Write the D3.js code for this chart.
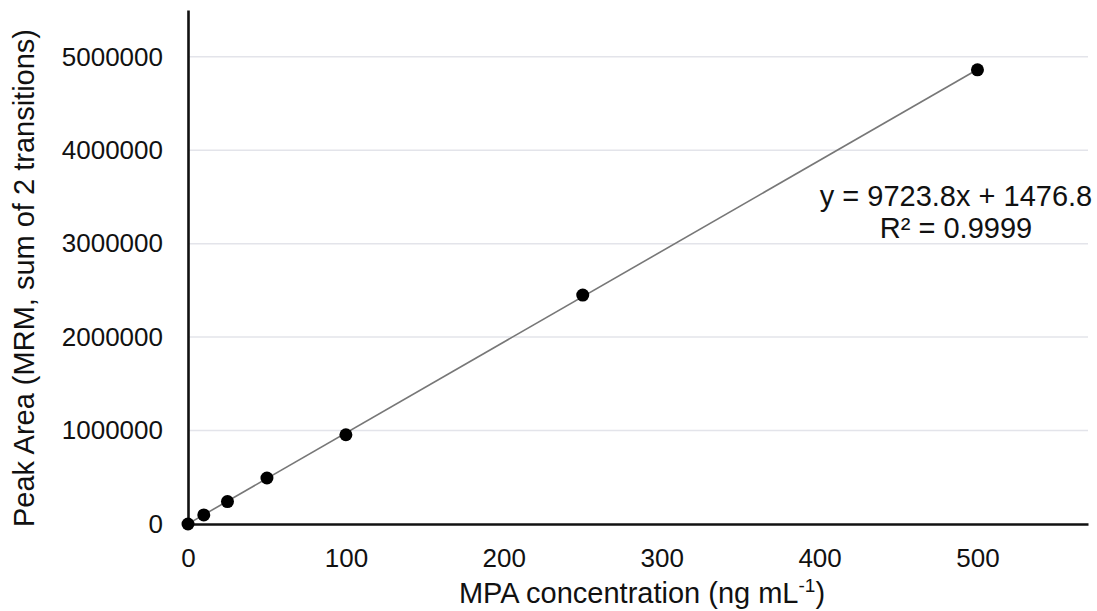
<!DOCTYPE html>
<html>
<head>
<meta charset="utf-8">
<script src="https://cdn.jsdelivr.net/npm/d3@7"></script>
<style>
  body { margin: 0; background: #fff; }
  text { font-family: "Liberation Sans", Arial, sans-serif; fill: #111; }
</style>
</head>
<body>
<div id="vis"></div>
<script>
'use strict';

// Calibration standards (ng/mL) and summed MRM peak areas
const concentrations = [0, 10, 25, 50, 100, 250, 500];
const peakAreas = [0, 97000, 240000, 492000, 955000, 2450000, 4860000];

const xTicks = [0, 100, 200, 300, 400, 500];
const yTicks = [0, 1000000, 2000000, 3000000, 4000000, 5000000];

const slope = 9723.8;
const intercept = 1476.8;
const equationLines = ["y = 9723.8x + 1476.8", "R² = 0.9999"];

const constraints = {
    margin: {left: 188, right: 9, top: 10, bottom: 87},
    width: 1097,
    height: 611
};
const innerW = constraints.width - constraints.margin.left - constraints.margin.right;
const innerH = constraints.height - constraints.margin.top - constraints.margin.bottom;

const svg = d3.select("#vis").append("svg")
    .attr("width", constraints.width)
    .attr("height", constraints.height);

const g = svg.append("g")
    .attr("transform", "translate(" + constraints.margin.left + "," + constraints.margin.top + ")");

const x = d3.scaleLinear().domain([0, 570]).range([0, innerW]);
const y = d3.scaleLinear().domain([0, 5500000]).range([innerH, 0]);

// Gridlines
g.append("g")
    .selectAll("line")
    .data(yTicks.slice(1))
    .enter()
    .append("line")
        .attr("x1", 0)
        .attr("x2", innerW)
        .attr("y1", (d) => y(d))
        .attr("y2", (d) => y(d))
        .attr("stroke", "#e3e4ea")
        .attr("stroke-width", 1.5);

// Axes
const xAxis = g.append("g")
    .attr("transform", "translate(0," + innerH + ")")
    .call(d3.axisBottom(x).tickValues(xTicks).tickSize(0).tickPadding(25));
const yAxis = g.append("g")
    .call(d3.axisLeft(y).tickValues(yTicks).tickSize(0).tickPadding(25).tickFormat(d3.format("d")));

[xAxis, yAxis].forEach((a) => {
    a.select(".domain").attr("stroke", "#111").attr("stroke-width", 2.6);
    a.selectAll("text")
        .style("font-size", "26px")
        .style("font-family", "'Liberation Sans', Arial, sans-serif")
        .attr("fill", "#111");
});

// Trend line
g.append("line")
    .attr("x1", x(0))
    .attr("y1", y(intercept))
    .attr("x2", x(500))
    .attr("y2", y(slope * 500 + intercept))
    .attr("stroke", "#777")
    .attr("stroke-width", 1.6);

// Points
g.append("g")
    .selectAll("circle")
    .data(concentrations)
    .enter()
    .append("circle")
        .attr("cx", (d) => x(d))
        .attr("cy", (d, i) => y(peakAreas[i]))
        .attr("r", 6.5)
        .attr("fill", "#000");

// Equation label
g.append("text")
    .attr("x", 768)
    .attr("y", 196)
    .attr("text-anchor", "middle")
    .style("font-size", "29px")
    .selectAll("tspan")
    .data(equationLines)
    .enter()
    .append("tspan")
        .attr("x", 768)
        .attr("dy", (d, i) => i === 0 ? 0 : 32)
        .text((d) => d);

// Axis titles
const xTitle = svg.append("text")
    .attr("x", 642)
    .attr("y", 603)
    .attr("text-anchor", "middle")
    .style("font-size", "29px");
xTitle.append("tspan").text("MPA concentration (ng mL");
xTitle.append("tspan").attr("dy", -11).style("font-size", "19px").text("-1");
xTitle.append("tspan").attr("dy", 11).text(")");

svg.append("text")
    .attr("transform", "translate(34, 278) rotate(-90)")
    .attr("text-anchor", "middle")
    .style("font-size", "29px")
    .text("Peak Area (MRM, sum of 2 transitions)");
</script>
</body>
</html>
